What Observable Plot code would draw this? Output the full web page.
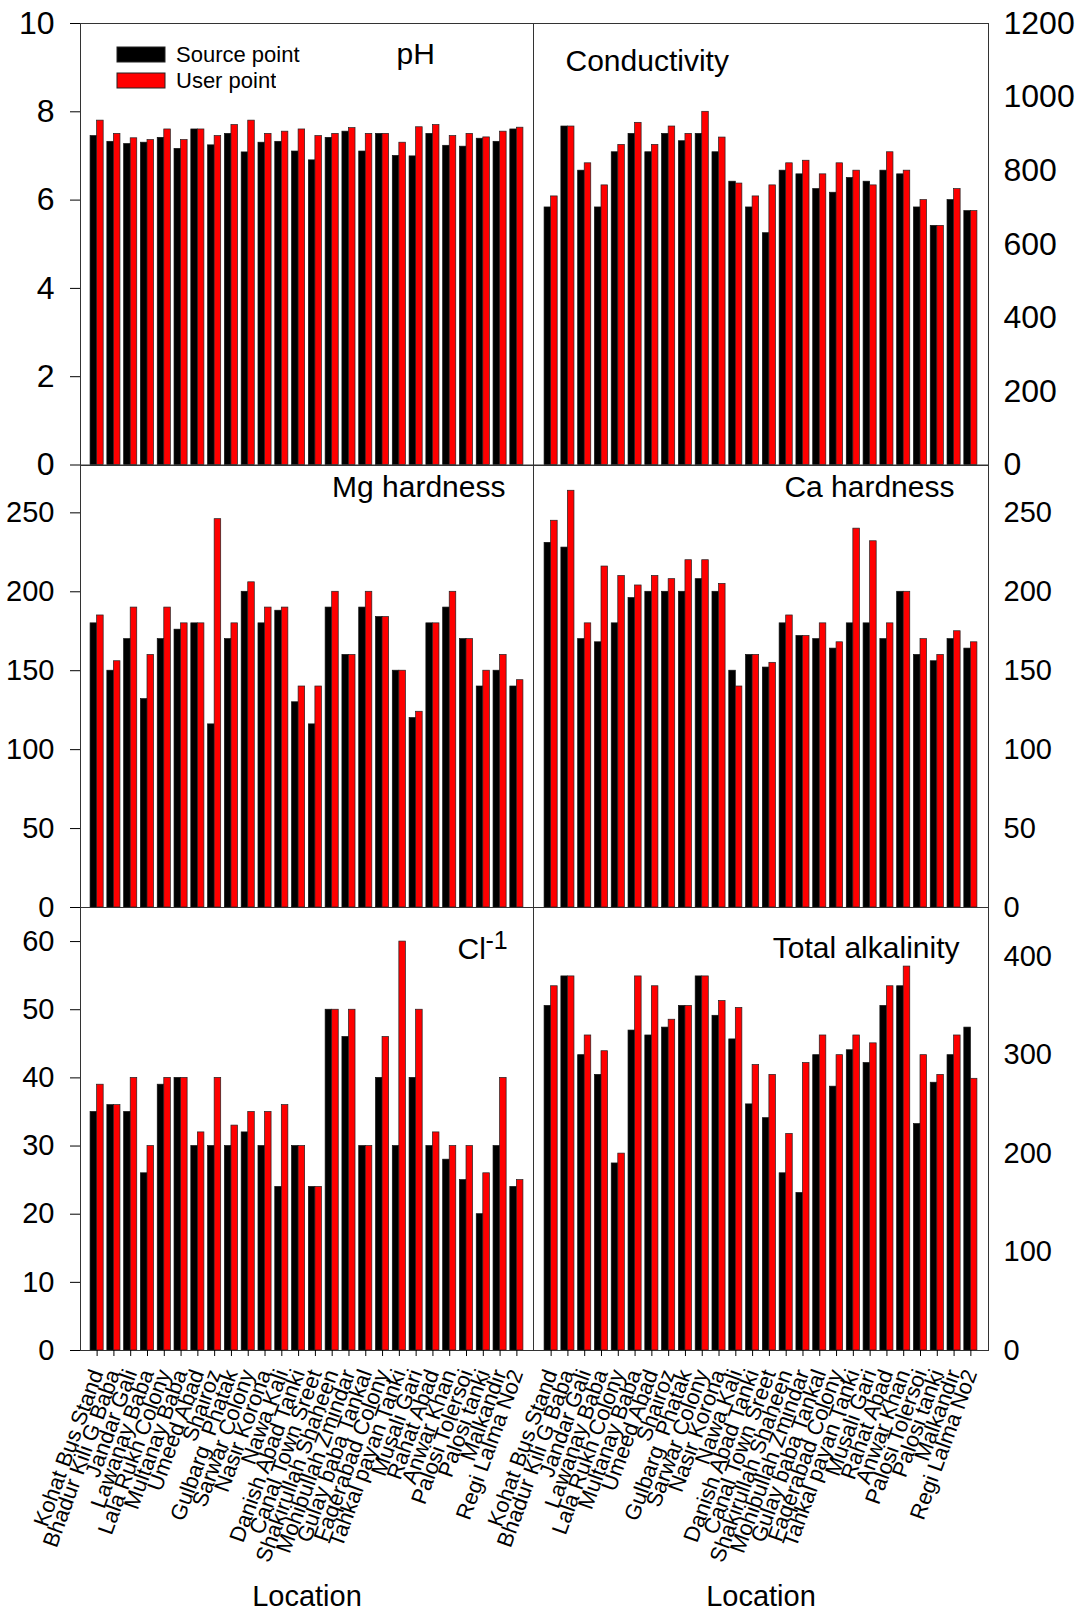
<!DOCTYPE html>
<html><head><meta charset="utf-8">
<script src="https://cdn.jsdelivr.net/npm/d3@7"></script>
<script src="https://cdn.jsdelivr.net/npm/@observablehq/plot@0.6"></script>
<style>
html,body{margin:0;padding:0;background:#fff;}
#chart{position:relative;width:1086px;height:1613px;overflow:hidden;font-family:"Liberation Sans",Arial,sans-serif;}
#legend{position:absolute;left:117px;top:42px;}
#legend, #legend *{font-family:"Liberation Sans",Arial,sans-serif !important;font-size:22px !important;color:#000 !important;line-height:25px;}
#legend rect{stroke:#222;stroke-width:1px;}
#legend svg{overflow:visible;}
</style></head><body><div id="chart"></div>
<script>
const locations = ["Kohat Bus Stand","Bhadur Kili G Baba","Jandar Gali","Lawanay Baba","Lala Rukh Colony","Multanay Baba","Umeed Abad","Shairoz","Gulbarg  Phatak","Sarwar Colony","Nasir Korona","Nawa Kali","Danish Abad Tanki","Canal Town Sreet","Shakirullah Shaheen","Mohibullah Zmindar","Gulay baba Tankal","Faqerabad Colony","Tahkal payan Tanki","Musali Gari","Rahat Abad","Anwar Khan","Palosi Tolersoi","Palosi tanki","Malkandir","Regi Lalma No2"];
const seriesNames = ["Source point","User point"];

const phSource = [7.45,7.32,7.27,7.30,7.41,7.16,7.60,7.24,7.50,7.08,7.30,7.32,7.10,6.90,7.41,7.55,7.10,7.50,7.00,6.99,7.50,7.23,7.21,7.39,7.32,7.60];
const phUser   = [7.80,7.50,7.40,7.36,7.60,7.36,7.60,7.45,7.70,7.80,7.50,7.55,7.60,7.45,7.50,7.63,7.50,7.50,7.30,7.65,7.70,7.45,7.50,7.42,7.55,7.64];

const condSource = [700,920,800,700,850,900,850,900,880,900,850,770,700,630,800,790,750,740,780,770,800,790,700,650,720,690];
const condUser   = [730,920,820,760,870,930,870,920,900,960,890,765,730,760,820,827,790,820,800,760,850,800,720,650,750,690];

const mgSource = [180,150,170,132,170,176,180,116,170,200,180,188,130,116,190,160,190,184,150,120,180,190,170,140,150,140];
const mgUser   = [185,156,190,160,190,180,180,246,180,206,190,190,140,140,200,160,200,184,150,124,180,200,170,150,160,144];

const caSource = [231,228,170,168,180,196,200,200,200,208,200,150,160,152,180,172,170,164,180,180,170,200,160,156,170,164];
const caUser   = [245,264,180,216,210,204,210,208,220,220,205,140,160,155,185,172,180,168,240,232,180,200,170,160,175,168];

const clSource = [35,36,35,26,39,40,30,30,30,32,30,24,30,24,50,46,30,40,30,40,30,28,25,20,30,24];
const clUser   = [39,36,40,30,40,40,32,40,33,35,35,36,30,24,50,50,30,46,60,50,32,30,30,26,40,25];

const alkSource = [350,380,300,280,190,325,320,328,350,380,340,316,250,236,180,160,300,268,305,292,350,370,230,272,300,328];
const alkUser   = [370,380,320,304,200,380,370,336,350,380,355,348,290,280,220,292,320,300,320,312,370,390,300,280,320,276];

const phTicks   = [0,2,4,6,8,10];
const condTicks = [0,200,400,600,800,1000,1200];
const hardTicks = [0,50,100,150,200,250];
const clTicks   = [0,10,20,30,40,50,60];
const alkTicks  = [0,100,200,300,400];

const FONT = '"Liberation Sans", Arial, sans-serif';
const chart = document.getElementById("chart");

const cols = {
  left:  {left: 0,   width: 534, marginLeft: 80, marginRight: 1,  side: "left",  paddingOuter: 0.6},
  right: {left: 533, width: 553, marginLeft: 0,  marginRight: 98, side: "right", paddingOuter: 0.66}
};
const rowsLayout = [
  {top: 0,   marginTop: 23, frameH: 441.5, marginBottom: 21, tickFont: 32},
  {top: 445, marginTop: 20, frameH: 442,   marginBottom: 21, tickFont: 29},
  {top: 887, marginTop: 20, frameH: 443,   marginBottom: 263, tickFont: 29}
];

function panel(col, row, cfg) {
  const c = cols[col], r = rowsLayout[row];
  const height = r.marginTop + r.frameH + r.marginBottom;
  const xOpts = {type: "band", domain: locations, paddingInner: 0.22, paddingOuter: c.paddingOuter, round: false};
  const bw = Plot.scale({x: {...xOpts, range: [c.marginLeft, c.width - c.marginRight]}}).bandwidth;
  const data = locations.map((loc, i) => ({loc, source: cfg.source[i], user: cfg.user[i]}));
  const marks = [
    Plot.barY(data, {x: "loc", y: "source", fill: "#000000", stroke: "#111", strokeWidth: 0.7, insetRight: bw / 2}),
    Plot.barY(data, {x: "loc", y: "user", fill: "#ff0000", stroke: "#222", strokeWidth: 0.7, insetLeft: bw / 2}),
    Plot.frame({stroke: "#333", strokeWidth: 1}),
    Plot.axisY({anchor: c.side, ticks: cfg.ticks, tickFormat: d => String(d), tickSize: c.side === "left" ? 10 : 0,
                tickPadding: c.side === "left" ? 16 : 15, fontSize: r.tickFont, label: null})
  ];
  if (row === 2) {
    marks.push(Plot.axisX({anchor: "bottom", tickSize: 6, tickRotate: -70, tickPadding: 14, fontSize: 22, label: null}));
    marks.push(Plot.text(["Location"], {text: d => d, frameAnchor: "bottom", dy: 255, lineAnchor: "bottom", fontSize: 29}));
  }
  for (const t of cfg.titles) {
    marks.push(Plot.text([t.text], {text: d => d, frameAnchor: t.anchor, textAnchor: t.textAnchor, lineAnchor: "bottom",
                                     dx: t.dx, dy: t.dy, fontSize: t.fontSize || 30}));
  }
  const svg = Plot.plot({
    width: c.width, height,
    marginLeft: c.marginLeft, marginRight: c.marginRight, marginTop: r.marginTop, marginBottom: r.marginBottom,
    style: {background: "transparent", overflow: "visible", fontFamily: FONT, color: "#000"},
    x: {...xOpts, axis: null},
    y: {domain: cfg.domain, axis: null},
    marks
  });
  svg.style.position = "absolute";
  svg.style.left = c.left + "px";
  svg.style.top = r.top + "px";
  chart.appendChild(svg);
}

panel("left", 0, {source: phSource, user: phUser, domain: [0, 10], ticks: phTicks,
  titles: [{text: "pH", anchor: "top-left", textAnchor: "start", dx: 316, dy: 40}]});
panel("right", 0, {source: condSource, user: condUser, domain: [0, 1200], ticks: condTicks,
  titles: [{text: "Conductivity", anchor: "top-left", textAnchor: "start", dx: 32, dy: 47}]});
panel("left", 1, {source: mgSource, user: mgUser, domain: [0, 280], ticks: hardTicks,
  titles: [{text: "Mg hardness", anchor: "top-right", textAnchor: "end", dx: -28, dy: 31}]});
panel("right", 1, {source: caSource, user: caUser, domain: [0, 280], ticks: hardTicks,
  titles: [{text: "Ca hardness", anchor: "top-right", textAnchor: "end", dx: -34, dy: 31}]});
panel("left", 2, {source: clSource, user: clUser, domain: [0, 65], ticks: clTicks,
  titles: [{text: "Cl", anchor: "top-left", textAnchor: "start", dx: 377, dy: 51},
           {text: "-1", anchor: "top-left", textAnchor: "start", dx: 405, dy: 41, fontSize: 25}]});
panel("right", 2, {source: alkSource, user: alkUser, domain: [0, 450], ticks: alkTicks,
  titles: [{text: "Total alkalinity", anchor: "top-right", textAnchor: "end", dx: -29, dy: 50}]});

const legend = Plot.legend({
  color: {type: "categorical", domain: seriesNames, range: ["#000000", "#ff0000"]},
  legend: "swatches", columns: 1, swatchWidth: 48, swatchHeight: 15
});
const legendBox = document.createElement("div");
legendBox.id = "legend";
legendBox.appendChild(legend);
chart.appendChild(legendBox);
</script>
</body></html>
